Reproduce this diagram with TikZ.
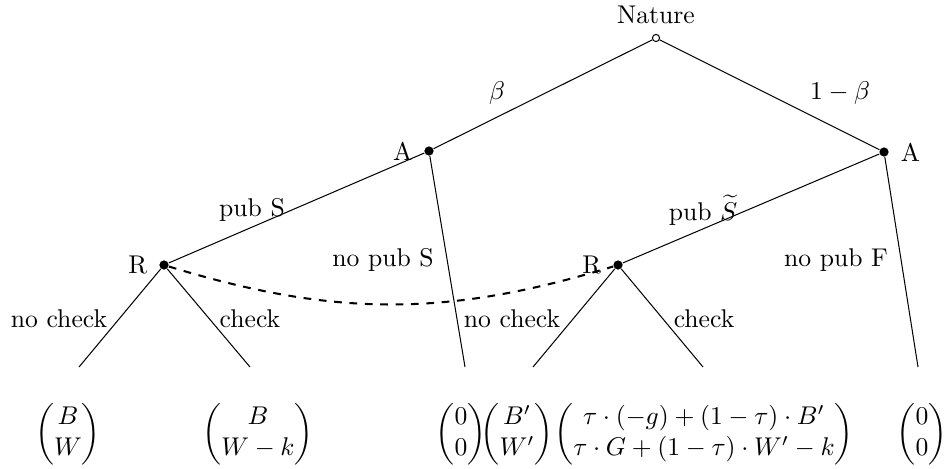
\documentclass[tikz,border=0pt]{standalone}
\usepackage{amsmath, amssymb}
\usepackage{tikz}
\usetikzlibrary{positioning}

\begin{document}
\begin{tikzpicture}[
   x=0.39pt, y=0.39pt,
   chance/.style={circle, draw, fill=white, inner sep=0pt, minimum size=2.8pt},
   player/.style={circle, fill=black, inner sep=0pt, minimum size=3.6pt},
   payoff/.style={inner sep=0pt},
   infoset/.style={dashed, thick}]

  \useasboundingbox (0,0) rectangle (944,468);

  % moves
  \node[chance] (nat) at (656,430) {};
  \node[player] (a1) at (429,317) {};
  \node[player] (a2) at (884,316) {};
  \node[player] (r1) at (164,203) {};
  \node[player] (r2) at (618,203) {};

  \node[above=0.5pt of nat] (natlbl) {Nature};
  \node[left=1pt of a1] (a1lbl) {A};
  \node[right=1pt of a2] (a2lbl) {A};
  \node[left=1pt of r1] (r1lbl) {R};
  \node[left=1pt of r2] (r2lbl) {R};

  % ends of the tree
  \coordinate (t1) at (79,101);
  \coordinate (t2) at (250,101);
  \coordinate (t3) at (465,101);
  \coordinate (t4) at (533,101);
  \coordinate (t5) at (703,101);
  \coordinate (t6) at (918,101);

  \draw (nat) -- (a1);
  \draw (nat) -- (a2);
  \draw (a1) -- (r1);
  \draw (a1) -- (t3);
  \draw (a2) -- (r2);
  \draw (a2) -- (t6);
  \draw (r1) -- (t1);
  \draw (r1) -- (t2);
  \draw (r2) -- (t4);
  \draw (r2) -- (t5);
  \draw[infoset] (r1) to[bend right=17] (r2);

  % branch labels
  \node (lbeta) at (497,375) {$\beta$};
  \node (lnbeta) at (840,375) {$1-\beta$};
  \node (lpub) at (252,258) {pub S};
  \node (lnopub) at (383,208) {no pub S};
  \node (lpubt) at (703,258) {pub $\widetilde{S}$};
  \node (lnopubf) at (836,208) {no pub F};
  \node (lnc1) at (59,149) {no check};
  \node (lc1) at (250,149) {check};
  \node (lnc2) at (512,149) {no check};
  \node (lc2) at (704,149) {check};

  % payoffs
  \node[payoff] (p1) at (68,34) {$\begin{pmatrix} B \\ W \end{pmatrix}$};
  \node[payoff] (p2) at (258,34) {$\begin{pmatrix} B \\ W-k \end{pmatrix}$};
  \node[payoff] (p3) at (461,34) {$\begin{pmatrix} 0 \\ 0 \end{pmatrix}$};
  \node[payoff] (p4) at (517,34) {$\begin{pmatrix} B' \\ W' \end{pmatrix}$};
  \node[payoff] (p5) at (704,34)
       {$\begin{pmatrix} \tau\cdot(-g)+(1-\tau)\cdot B' \\ \tau\cdot G+(1-\tau)\cdot W'-k \end{pmatrix}$};
  \node[payoff] (p6) at (922,34) {$\begin{pmatrix} 0 \\ 0 \end{pmatrix}$};
\end{tikzpicture}
\end{document}
